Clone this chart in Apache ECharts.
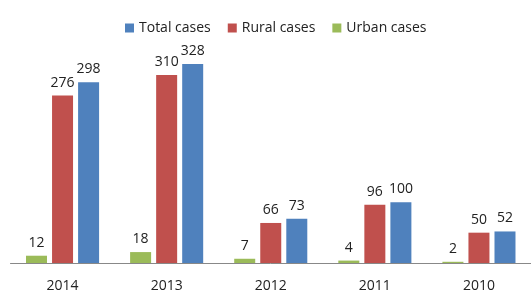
<!DOCTYPE html>
<html>
<head>
<meta charset="utf-8">
<script src="https://cdn.jsdelivr.net/npm/echarts@6/dist/echarts.min.js"></script>
<style>
  html, body { margin: 0; padding: 0; background: #fff; }
  #main { width: 531px; height: 293px; }
</style>
</head>
<body>
<div id="main"></div>
<script>
// 数据
var years = ['2014', '2013', '2012', '2011', '2010'];
var urbanCases = [12, 18, 7, 4, 2];
var ruralCases = [276, 310, 66, 96, 50];
var totalCases = [298, 328, 73, 100, 52];

var myChart = echarts.init(document.getElementById('main'));
var labelStyle = {
    show: true,
    position: 'top',
    distance: 6,
    fontFamily: 'Open Sans',
    fontSize: 14,
    color: '#222'
};
var chartOptions = {
    animation: false,
    textStyle: { fontFamily: 'Open Sans' },
    legend: {
        data: ['Total cases', 'Rural cases', 'Urban cases'],
        top: 16,
        left: 120,
        icon: 'rect',
        itemWidth: 9,
        itemHeight: 9,
        itemGap: 17,
        textStyle: { fontSize: 14, color: '#222', fontFamily: 'Open Sans' }
    },
    grid: { left: 10.5, right: -10, top: 50.7, bottom: 26.3, containLabel: false },
    xAxis: {
        type: 'category',
        data: years,
        axisLine: { lineStyle: { color: '#888', width: 1 } },
        axisTick: { show: false },
        axisLabel: { margin: 16, fontSize: 14, color: '#222', fontFamily: 'Open Sans' }
    },
    yAxis: {
        type: 'value',
        min: 0,
        max: 350,
        show: false
    },
    series: [
        {
            name: 'Urban cases', type: 'bar', barWidth: 21, barGap: '24%',
            itemStyle: { color: '#9BBB59' }, label: labelStyle, data: urbanCases
        },
        {
            name: 'Rural cases', type: 'bar', barWidth: 21, barGap: '24%',
            itemStyle: { color: '#C0504D' }, label: labelStyle, data: ruralCases
        },
        {
            name: 'Total cases', type: 'bar', barWidth: 21, barGap: '24%',
            itemStyle: { color: '#4F81BD' }, label: labelStyle, data: totalCases
        }
    ]
};
myChart.setOption(chartOptions, true);
</script>
</body>
</html>
